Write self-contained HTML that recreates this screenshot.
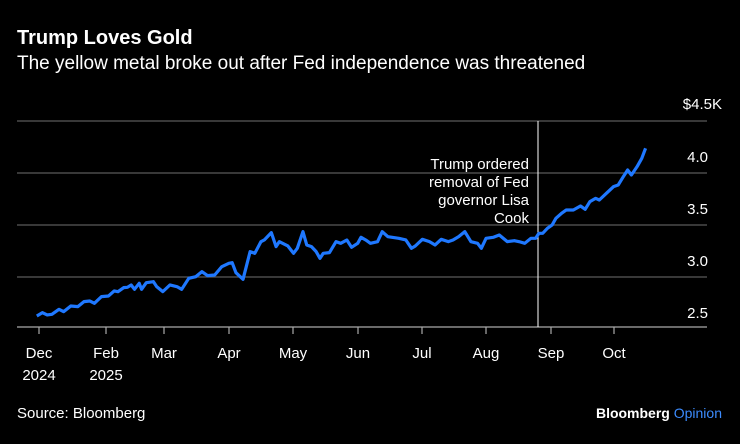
<!DOCTYPE html>
<html><head><style>
body{margin:0;background:#000;width:740px;height:439px;overflow:hidden;font-family:"Liberation Sans",sans-serif;color:#fff}
</style></head><body>
<svg width="740" height="439" xmlns="http://www.w3.org/2000/svg" font-family="Liberation Sans, sans-serif">
<rect width="740" height="439" fill="#000"/>
<text x="17" y="44" font-size="20" font-weight="bold" fill="#fff">Trump Loves Gold</text>
<text x="17" y="69" font-size="19" fill="#fff">The yellow metal broke out after Fed independence was threatened</text>
<g stroke="#5a5a5a" stroke-width="1.3">
<line x1="17" y1="121" x2="707" y2="121"/>
<line x1="17" y1="173" x2="707" y2="173"/>
<line x1="17" y1="225" x2="707" y2="225"/>
<line x1="17" y1="277" x2="707" y2="277"/>
</g>
<line x1="17" y1="327" x2="707" y2="327" stroke="#aaa" stroke-width="1.3"/>
<g font-size="15" fill="#fff" text-anchor="end">
<text x="722" y="109">$4.5K</text>
<text x="708" y="162">4.0</text>
<text x="708" y="214">3.5</text>
<text x="708" y="266">3.0</text>
<text x="708" y="318">2.5</text>
</g>
<line x1="538" y1="121" x2="538" y2="327" stroke="#fff" stroke-width="1"/>
<g font-size="15" fill="#fff" text-anchor="end">
<text x="529" y="169">Trump ordered</text>
<text x="529" y="187">removal of Fed</text>
<text x="529" y="205">governor Lisa</text>
<text x="529" y="223">Cook</text>
</g>
<g stroke="#aaa" stroke-width="1.2">
<line x1="39" y1="327" x2="39" y2="334"/><line x1="106" y1="327" x2="106" y2="334"/>
<line x1="164" y1="327" x2="164" y2="334"/><line x1="229" y1="327" x2="229" y2="334"/>
<line x1="293" y1="327" x2="293" y2="334"/><line x1="358" y1="327" x2="358" y2="334"/>
<line x1="422" y1="327" x2="422" y2="334"/><line x1="486" y1="327" x2="486" y2="334"/>
<line x1="551" y1="327" x2="551" y2="334"/><line x1="614" y1="327" x2="614" y2="334"/>
</g>
<g font-size="15" fill="#fff" text-anchor="middle">
<text x="39" y="358">Dec</text><text x="39" y="380">2024</text>
<text x="106" y="358">Feb</text><text x="106" y="380">2025</text>
<text x="164" y="358">Mar</text><text x="229" y="358">Apr</text>
<text x="293" y="358">May</text><text x="358" y="358">Jun</text>
<text x="422" y="358">Jul</text><text x="486" y="358">Aug</text>
<text x="551" y="358">Sep</text><text x="614" y="358">Oct</text>
</g>
<g transform="translate(0,90) scale(0.4719,0.3333)">
<path fill="none" stroke="#1f78ff" stroke-width="3.2" vector-effect="non-scaling-stroke" stroke-linejoin="round" d="M78,678 L90,668 L100,675 L110,673 L125,658 L135,665 L150,648 L165,650 L178,635 L190,633 L200,640 L215,620 L230,618 L242,603 L250,605 L262,593 L270,592 L278,585 L285,598 L295,580 L300,598 L310,578 L325,575 L332,590 L345,605 L360,585 L375,590 L385,598 L400,565 L415,560 L428,545 L440,557 L455,555 L470,530 L485,520 L492,518 L500,548 L515,568 L530,485 L540,490 L553,455 L560,450 L575,428 L585,470 L592,455 L610,468 L622,490 L630,475 L642,425 L650,465 L660,470 L670,485 L678,505 L685,490 L698,488 L712,455 L722,460 L735,450 L745,472 L758,460 L765,442 L775,450 L785,460 L800,455 L810,425 L822,440 L845,445 L860,450 L872,475 L880,468 L895,448 L910,455 L922,465 L935,448 L950,455 L960,450 L972,440 L985,425 L998,455 L1012,460 L1020,475 L1030,445 L1045,442 L1058,435 L1075,455 L1090,452 L1100,455 L1112,460 L1125,445 L1135,445 L1142,430 L1150,430 L1160,415 L1170,405 L1178,385 L1190,370 L1200,360 L1215,360 L1230,348 L1240,358 L1250,335 L1262,325 L1270,330 L1285,310 L1300,290 L1310,285 L1320,262 L1330,240 L1338,255 L1350,230 L1360,205 L1368,175"/>
</g>
<text x="17" y="418" font-size="15" fill="#fff">Source: Bloomberg</text>
<text x="722" y="418" font-size="14" font-weight="bold" text-anchor="end"><tspan fill="#fff">Bloomberg</tspan><tspan fill="#3c8cff" font-weight="normal"> Opinion</tspan></text>
</svg>
</body></html>
